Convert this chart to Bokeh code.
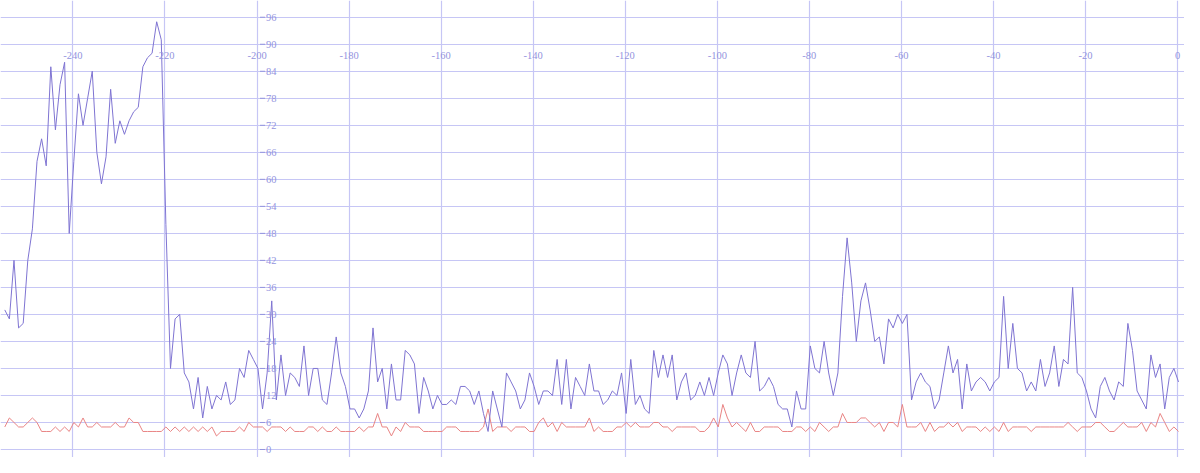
from bokeh.plotting import figure
from bokeh.models import Range1d, FixedTicker, ColumnDataSource
from bokeh.core.properties import value
from bokeh.embed import file_html
from bokeh.resources import INLINE

# ---- data -------------------------------------------------------------
x_start = -254.8  # first sample position; one sample per unit
series_a = [31, 29, 42, 27, 28, 42, 49, 64, 69, 63, 85, 71, 81, 86, 48, 64, 79, 72, 78, 84,
            66, 59, 65, 80, 68, 73, 70, 73, 75, 76, 85, 87, 88, 95, 91, 50, 18, 29, 30, 17,
            15, 9, 16, 7, 14, 9, 12, 11, 15, 10, 11, 18, 16, 22, 20, 18, 9, 17, 33, 11,
            21, 12, 17, 16, 14, 23, 12, 18, 18, 11, 10, 17, 25, 17, 14, 9, 9, 7, 9, 13,
            27, 15, 18, 9, 19, 11, 11, 22, 21, 19, 8, 16, 13, 9, 12, 10, 10, 11, 10, 14,
            14, 13, 10, 13, 8, 4, 13, 9, 5, 17, 15, 13, 9, 11, 17, 14, 10, 13, 13, 12,
            20, 10, 20, 9, 16, 14, 12, 19, 13, 13, 10, 11, 13, 12, 17, 8, 20, 10, 12, 9,
            8, 22, 16, 21, 16, 21, 11, 15, 17, 11, 12, 15, 12, 16, 12, 17, 21, 19, 12, 17,
            21, 17, 16, 24, 13, 14, 16, 14, 10, 9, 9, 5, 13, 9, 9, 23, 18, 17, 24, 17,
            12, 17, 34, 47, 37, 24, 33, 37, 31, 24, 25, 19, 29, 27, 30, 28, 30, 11, 15, 17,
            15, 14, 9, 11, 17, 23, 17, 20, 9, 19, 13, 15, 16, 15, 13, 15, 16, 34, 18, 28,
            18, 17, 13, 15, 13, 20, 14, 17, 23, 14, 20, 19, 36, 17, 16, 13, 9, 7, 14, 16,
            13, 11, 15, 14, 28, 22, 13, 11, 9, 21, 16, 19, 9, 16, 18, 15]
series_b = [5, 7, 6, 5, 5, 6, 7, 6, 4, 4, 4, 5, 4, 5, 4, 6, 5, 7, 5, 5,
            6, 5, 5, 5, 6, 5, 5, 7, 6, 6, 4, 4, 4, 4, 4, 5, 4, 5, 4, 5,
            4, 5, 4, 5, 4, 5, 3, 4, 4, 4, 4, 5, 4, 6, 5, 5, 5, 4, 5, 5,
            5, 4, 5, 4, 4, 4, 5, 5, 4, 5, 4, 4, 5, 4, 4, 4, 4, 5, 4, 5,
            5, 8, 5, 5, 3, 5, 4, 6, 5, 5, 5, 4, 4, 4, 4, 4, 5, 5, 5, 4,
            4, 4, 4, 4, 5, 9, 4, 5, 5, 5, 4, 5, 5, 5, 4, 4, 6, 7, 5, 6,
            4, 6, 5, 5, 5, 5, 5, 7, 4, 5, 4, 4, 4, 5, 5, 6, 5, 6, 5, 5,
            5, 6, 6, 5, 5, 4, 5, 5, 5, 5, 5, 4, 4, 5, 7, 5, 10, 7, 5, 6,
            5, 4, 6, 4, 4, 5, 5, 5, 5, 4, 4, 4, 5, 5, 4, 5, 4, 6, 5, 4,
            5, 5, 8, 6, 6, 6, 7, 7, 6, 5, 6, 4, 6, 6, 5, 10, 5, 5, 5, 6,
            4, 6, 4, 5, 5, 6, 5, 6, 4, 5, 5, 5, 4, 5, 4, 5, 4, 6, 4, 5,
            5, 5, 5, 4, 5, 5, 5, 5, 5, 5, 5, 6, 5, 4, 5, 5, 5, 6, 6, 5,
            4, 4, 5, 6, 5, 5, 5, 6, 4, 6, 5, 8, 6, 4, 5, 4]
x_ticks = [-240, -220, -200, -180, -160, -140, -120, -100, -80, -60, -40, -20, 0]
y_ticks = [0, 6, 12, 18, 24, 30, 36, 42, 48, 54, 60, 66, 72, 78, 84, 90, 96]

xs = [x_start + i for i in range(len(series_a))]

# ---- styles -----------------------------------------------------------
GRID = "#c6c6f5"
LABEL = "#9494de"
BLUE = "#7f74d2"
RED = "#e98484"
FONT = "Liberation Sans Narrow"
FONT_SIZE = "10.5px"

W, H = 1184, 457
X0, X1 = -255.73, 1.50
Y0, Y1 = -1.78, 99.72
x_axis_at = -200      # vertical line the value labels hang from
y_axis_at = 90        # horizontal line the position labels hang under

p = figure(width=W, height=H, output_backend="svg", toolbar_location=None,
           x_range=Range1d(X0, X1), y_range=Range1d(Y0, Y1),
           min_border=0, min_border_left=0, min_border_right=0,
           min_border_top=0, min_border_bottom=0)
p.outline_line_color = None
p.background_fill_color = "white"
p.border_fill_color = "white"
for ax in p.axis:
    ax.visible = False

p.xgrid.ticker = FixedTicker(ticks=x_ticks)
p.ygrid.ticker = FixedTicker(ticks=y_ticks)
for g in (p.xgrid, p.ygrid):
    g.grid_line_color = GRID
    g.grid_line_width = 1.2
    g.grid_line_alpha = 1.0

px_x = (X1 - X0) / W

# lines
p.line(xs, series_b, line_color=RED, line_width=1)
p.line(xs, series_a, line_color=BLUE, line_width=1)

# x labels
xl = ColumnDataSource(dict(x=x_ticks, y=[y_axis_at] * len(x_ticks),
                           t=[str(v) for v in x_ticks]))
p.text(x="x", y="y", text="t", source=xl, text_align="center", text_baseline="top",
       y_offset=8, text_color=LABEL, text_font=value(FONT), text_font_size=FONT_SIZE)

# y labels with small tick dashes
yl = ColumnDataSource(dict(x=[x_axis_at] * len(y_ticks), y=y_ticks,
                           t=[str(v) for v in y_ticks],
                           x0=[x_axis_at + 3 * px_x] * len(y_ticks),
                           x1=[x_axis_at + 8 * px_x] * len(y_ticks)))
p.segment(x0="x0", y0="y", x1="x1", y1="y", source=yl, line_color=LABEL, line_width=1)
p.text(x="x", y="y", text="t", source=yl, text_align="left", text_baseline="middle",
       x_offset=9, text_color=LABEL, text_font=value(FONT), text_font_size=FONT_SIZE)

open("out.html", "w").write(file_html(p, INLINE))
